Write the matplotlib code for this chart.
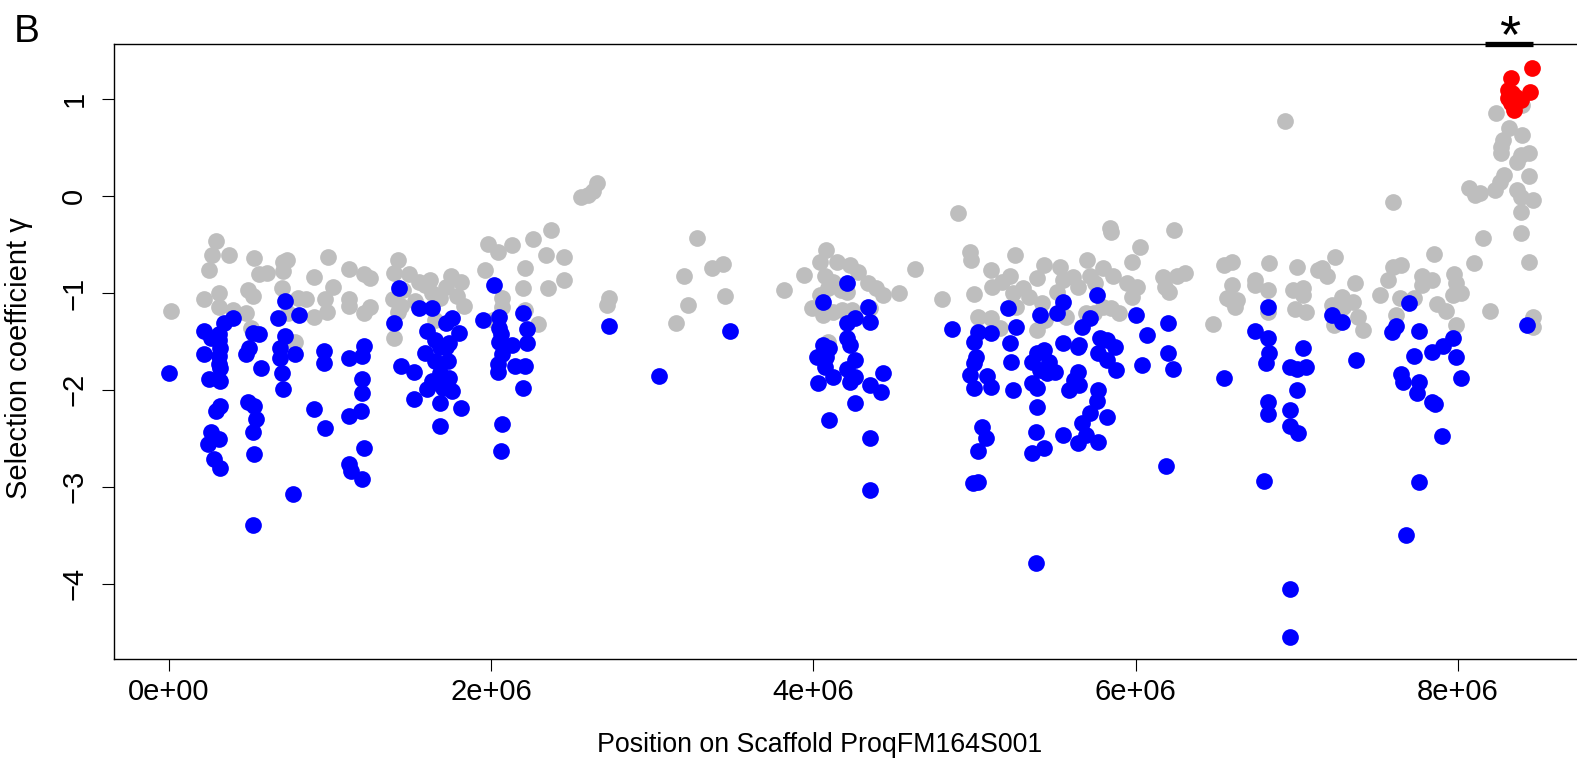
import matplotlib
matplotlib.use('Agg')
import matplotlib.pyplot as plt
import numpy as np

plt.rcParams['font.family'] = ['Liberation Sans', 'DejaVu Sans']

# position (Mb), selection coefficient gamma
grey_pts = [
    # 0 - 1 Mb
    (0.29, -0.46), (0.27, -0.61), (0.37, -0.61), (0.25, -0.76), (0.22, -1.06), (0.31, -1.00),
    (0.31, -1.15), (0.40, -1.18), (0.48, -1.21), (0.53, -0.64), (0.56, -0.80), (0.61, -0.79),
    (0.49, -0.97), (0.52, -1.03), (0.51, -1.36), (0.71, -0.68), (0.73, -0.66), (0.71, -0.77),
    (0.70, -0.95), (0.80, -1.05), (0.85, -1.06), (0.74, -1.21), (0.78, -1.51), (0.90, -0.84),
    (0.99, -0.63), (1.02, -0.94), (0.97, -1.06), (0.98, -1.20), (0.90, -1.25), (0.01, -1.19),
    # 1 - 2 Mb
    (1.12, -0.75), (1.21, -0.80), (1.25, -0.85), (1.12, -1.06), (1.12, -1.13), (1.25, -1.15),
    (1.21, -1.21), (1.42, -0.66), (1.40, -0.79), (1.49, -0.80), (1.55, -0.89), (1.62, -0.87),
    (1.75, -0.82), (1.81, -0.89), (1.39, -1.06), (1.44, -1.13), (1.42, -1.20), (1.53, -1.08),
    (1.63, -1.00), (1.72, -0.94), (1.79, -1.03), (1.83, -1.13), (1.65, -1.28), (1.40, -1.46),
    (1.59, -0.92), (1.68, -1.05), (1.45, -0.97),
    # 2 - 2.5 Mb
    (1.98, -0.49), (2.04, -0.58), (2.13, -0.51), (2.26, -0.44), (2.37, -0.35), (2.34, -0.61),
    (2.45, -0.63), (2.21, -0.74), (1.96, -0.76), (2.20, -0.95), (2.35, -0.95), (2.45, -0.87),
    (2.07, -1.05), (2.07, -1.15), (2.21, -1.18), (2.29, -1.32), (2.01, -1.28),
    # 2.5 - 4 Mb
    (2.56, -0.01), (2.60, 0.01), (2.63, 0.05), (2.66, 0.13), (2.73, -1.05), (2.72, -1.12),
    (3.28, -0.43), (3.20, -0.82), (3.37, -0.74), (3.44, -0.70), (3.45, -1.03), (3.22, -1.12),
    (3.15, -1.31),
    # 4 - 5 Mb
    (3.82, -0.97), (3.94, -0.81), (4.08, -0.56), (4.04, -0.68), (4.15, -0.68), (4.23, -0.71),
    (4.28, -0.78), (4.07, -0.82), (4.12, -0.89), (4.04, -1.02), (4.09, -0.95), (4.17, -0.97),
    (4.21, -0.99), (3.99, -1.16), (4.06, -1.23), (4.12, -1.20), (4.18, -1.18), (4.24, -1.18),
    (4.35, -1.16), (4.34, -0.90), (4.39, -0.95), (4.43, -1.02), (4.53, -1.00), (4.63, -0.75),
    (4.09, -1.51), (4.80, -1.06), (4.90, -0.17),
    # 5 - 6 Mb
    (4.97, -0.58), (4.98, -0.66), (5.10, -0.76), (5.25, -0.61), (5.22, -0.82), (5.17, -0.89),
    (5.11, -0.94), (5.00, -1.01), (5.02, -1.25), (5.10, -1.26), (5.16, -1.36), (5.24, -1.00),
    (5.26, -1.15), (5.30, -0.95), (5.34, -1.04), (5.39, -0.85), (5.43, -0.71), (5.42, -1.10),
    (5.39, -1.38), (5.44, -1.28), (5.53, -0.73), (5.55, -0.87), (5.51, -0.99), (5.57, -1.25),
    (5.61, -0.84), (5.64, -0.94), (5.70, -0.66), (5.72, -0.82), (5.75, -0.90), (5.80, -0.74),
    (5.86, -0.82), (5.84, -0.33), (5.85, -0.37), (5.74, -1.21), (5.80, -1.15), (5.85, -1.16),
    (5.90, -1.21), (5.69, -1.21), (5.95, -0.90), (6.01, -0.94), (5.98, -1.04), (5.98, -0.68),
    (6.03, -0.53),
    # 6 - 7.5 Mb
    (6.17, -0.84), (6.26, -0.82), (6.31, -0.79), (6.18, -0.94), (6.21, -0.99), (6.24, -0.35),
    (6.48, -1.32), (6.55, -0.71), (6.60, -0.68), (6.57, -1.05), (6.60, -0.92), (6.59, -1.07),
    (6.63, -1.07), (6.62, -1.15), (6.74, -0.87), (6.74, -0.92), (6.82, -0.97), (6.82, -1.20),
    (6.83, -0.69), (6.93, 0.77), (7.00, -0.73), (6.98, -0.97), (7.04, -0.95), (7.04, -1.02),
    (6.99, -1.17), (7.06, -1.20), (7.13, -0.76), (7.16, -0.74), (7.24, -0.63), (7.19, -0.82),
    (7.22, -1.12), (7.28, -1.04), (7.29, -1.15), (7.35, -1.09), (7.36, -0.90), (7.38, -1.25),
    (7.41, -1.38), (7.23, -1.33), (7.52, -1.02),
    # 7.5 - 8.5 Mb
    (8.40, 0.94), (8.24, 0.86), (8.32, 0.70), (8.40, 0.63), (8.28, 0.58), (8.27, 0.51),
    (8.27, 0.44), (8.39, 0.42), (8.44, 0.44), (8.37, 0.35), (8.44, 0.21), (8.29, 0.22),
    (8.26, 0.14), (8.23, 0.06), (8.37, 0.06), (8.39, -0.01), (8.47, -0.04), (8.07, 0.08),
    (8.11, 0.01), (8.14, 0.03), (8.39, -0.16), (8.39, -0.38), (8.16, -0.43), (8.44, -0.68),
    (8.10, -0.69), (7.85, -0.60), (7.60, -0.06), (8.20, -1.19), (8.47, -1.25), (8.47, -1.35),
    (7.60, -0.73), (7.65, -0.71), (7.57, -0.87), (7.78, -0.82), (7.84, -0.87), (7.78, -0.92),
    (7.98, -0.80), (7.99, -0.90), (8.02, -1.00), (7.97, -1.02), (7.87, -1.11), (7.93, -1.19),
    (7.99, -1.33), (7.64, -1.05), (7.73, -1.05), (7.62, -1.23),
]

blue_pts = [
    # 0 - 1 Mb
    (0.00, -1.83), (0.22, -1.39), (0.26, -1.46), (0.34, -1.31), (0.40, -1.26), (0.31, -1.42),
    (0.31, -1.49), (0.32, -1.57), (0.22, -1.63), (0.31, -1.65), (0.31, -1.73), (0.32, -1.77),
    (0.25, -1.89), (0.32, -1.91), (0.29, -2.22), (0.32, -2.17), (0.26, -2.44), (0.31, -2.51),
    (0.24, -2.56), (0.28, -2.71), (0.32, -2.81), (0.52, -1.41), (0.56, -1.42), (0.50, -1.57),
    (0.48, -1.63), (0.57, -1.77), (0.49, -2.13), (0.53, -2.17), (0.54, -2.30), (0.52, -2.43),
    (0.53, -2.66), (0.52, -3.39), (0.72, -1.08), (0.68, -1.26), (0.72, -1.44), (0.69, -1.57),
    (0.69, -1.67), (0.78, -1.63), (0.70, -1.83), (0.71, -1.99), (0.77, -3.08), (0.81, -1.23),
    (0.96, -1.60), (0.96, -1.72), (0.90, -2.20), (0.97, -2.39),
    # 1 - 2 Mb
    (1.21, -1.55), (1.12, -1.67), (1.20, -1.65), (1.20, -1.89), (1.20, -2.03), (1.19, -2.22),
    (1.12, -2.27), (1.21, -2.60), (1.12, -2.77), (1.13, -2.84), (1.20, -2.92), (1.43, -0.95),
    (1.40, -1.31), (1.44, -1.75), (1.52, -1.82), (1.52, -2.09), (1.55, -1.16), (1.63, -1.16),
    (1.72, -1.31), (1.76, -1.26), (1.80, -1.41), (1.60, -1.39), (1.68, -1.56), (1.72, -1.56),
    (1.65, -1.70), (1.73, -1.70), (1.68, -1.83), (1.74, -1.88), (1.63, -1.91), (1.70, -1.98),
    (1.76, -2.01), (1.60, -1.99), (1.68, -2.14), (1.81, -2.19), (1.68, -2.37), (1.59, -1.62),
    (1.65, -1.49), (1.74, -1.52), (1.68, -1.94),
    # 2 - 2.5 Mb
    (2.02, -0.92), (1.95, -1.28), (2.05, -1.25), (2.05, -1.36), (2.06, -1.42), (2.05, -1.51),
    (2.07, -1.63), (2.04, -1.73), (2.04, -1.82), (2.13, -1.54), (2.22, -1.37), (2.22, -1.52),
    (2.20, -1.21), (2.15, -1.75), (2.21, -1.75), (2.20, -1.98), (2.07, -2.35), (2.06, -2.63),
    # 2.5 - 4 Mb
    (2.73, -1.34), (3.04, -1.86), (3.48, -1.39),
    # 4 - 5 Mb
    (4.21, -0.90), (4.06, -1.09), (4.34, -1.14), (4.35, -1.30), (4.21, -1.31), (4.26, -1.26),
    (4.21, -1.47), (4.23, -1.54), (4.10, -1.57), (4.06, -1.54), (4.02, -1.66), (4.08, -1.66),
    (4.07, -1.76), (4.12, -1.87), (4.03, -1.93), (4.21, -1.78), (4.26, -1.69), (4.26, -1.87),
    (4.23, -1.92), (4.43, -1.83), (4.35, -1.95), (4.42, -2.02), (4.26, -2.14), (4.10, -2.31),
    (4.35, -2.50), (4.35, -3.03), (4.86, -1.37),
    # 5 - 6.5 Mb
    (5.02, -1.40), (5.00, -1.51), (5.01, -1.66), (5.00, -1.72), (4.97, -1.85), (5.08, -1.86),
    (5.00, -1.98), (5.10, -1.97), (5.05, -2.38), (5.07, -2.50), (5.02, -2.63), (4.99, -2.96),
    (5.02, -2.95), (5.10, -1.41), (5.21, -1.16), (5.22, -1.52), (5.26, -1.35), (5.23, -1.71),
    (5.24, -2.00), (5.41, -1.23), (5.51, -1.21), (5.55, -1.09), (5.76, -1.02), (5.72, -1.26),
    (5.67, -1.35), (5.55, -1.52), (5.64, -1.56), (5.39, -1.62), (5.43, -1.59), (5.36, -1.71),
    (5.46, -1.71), (5.41, -1.80), (5.50, -1.82), (5.45, -1.83), (5.36, -1.93), (5.39, -1.98),
    (5.39, -2.18), (5.38, -2.43), (5.36, -2.65), (5.43, -2.60), (5.55, -2.47), (5.64, -1.82),
    (5.62, -1.90), (5.65, -1.95), (5.59, -2.00), (5.77, -2.00), (5.76, -2.11), (5.72, -2.24),
    (5.67, -2.34), (5.69, -2.47), (5.64, -2.55), (5.77, -2.54), (5.82, -2.28), (5.78, -1.46),
    (5.82, -1.49), (5.87, -1.56), (5.77, -1.62), (5.82, -1.69), (5.88, -1.80), (5.65, -1.54),
    (6.00, -1.23), (6.07, -1.43), (6.04, -1.74), (6.20, -1.31), (6.20, -1.62), (6.23, -1.78),
    (6.19, -2.79), (5.38, -3.79), (6.55, -1.88),
    # 6.5 - 8.5 Mb
    (6.82, -1.14), (6.74, -1.39), (6.82, -1.47), (6.83, -1.62), (6.81, -1.72), (6.82, -2.13),
    (6.82, -2.25), (6.80, -2.94), (7.04, -1.57), (6.96, -1.76), (7.00, -1.78), (7.06, -1.76),
    (7.00, -2.00), (6.96, -2.21), (6.96, -2.37), (7.01, -2.45), (7.22, -1.23), (7.28, -1.30),
    (7.37, -1.69), (7.70, -1.10), (7.62, -1.34), (7.59, -1.40), (7.76, -1.39), (7.73, -1.65),
    (7.65, -1.84), (7.66, -1.92), (7.76, -1.92), (7.75, -2.03), (7.84, -2.13), (7.86, -2.15),
    (7.90, -2.48), (7.76, -2.95), (7.84, -1.61), (7.91, -1.55), (7.97, -1.46), (7.99, -1.66),
    (8.02, -1.88), (8.43, -1.33), (7.68, -3.50), (6.96, -4.06), (6.96, -4.55),
]

red_pts = [
    (8.46, 1.32), (8.33, 1.22), (8.31, 1.09), (8.36, 1.02), (8.45, 1.07),
    (8.35, 0.89), (8.31, 1.01), (8.39, 0.99), (8.33, 0.96), (8.34, 1.06),
]

# significant window marked above the plot
window = (8.17, 8.47)

xtick_pos = [0, 2, 4, 6, 8]
xtick_labels = ['0e+00', '2e+06', '4e+06', '6e+06', '8e+06']
ytick_pos = [-4, -3, -2, -1, 0, 1]
ytick_labels = ['\u22124', '\u22123', '\u22122', '\u22121', '0', '1']

fig = plt.figure(figsize=(15.77, 7.58), dpi=100)
# right side of the box runs past the image edge
ax = fig.add_axes([0.0724, 0.1306, 0.9347, 0.8113])

for pts, col, z in [(grey_pts, '#BEBEBE', 2), (blue_pts, '#0000FF', 3), (red_pts, '#FF0000', 4)]:
    a = np.array(pts)
    ax.scatter(a[:, 0] * 1e6, a[:, 1], s=145, color=col, linewidths=0, zorder=z)

ax.set_xlim(-0.34e6, 8.81e6)
ax.set_ylim(-4.778, 1.569)

ax.set_xticks([v * 1e6 for v in xtick_pos])
ax.set_xticklabels(xtick_labels)
ax.set_yticks(ytick_pos)
ax.set_yticklabels(ytick_labels, rotation=90, va='center')

ax.tick_params(axis='both', direction='out', length=8.6, width=0.8, labelsize=21, color='black')
ax.tick_params(axis='x', pad=5)
ax.tick_params(axis='y', pad=10)
for sp in ax.spines.values():
    sp.set_linewidth(1.0)
    sp.set_color('black')

# bar and star for the significant window
ax.plot([window[0] * 1e6, window[1] * 1e6], [1.569, 1.569], color='black', lw=3.8,
        solid_capstyle='butt', clip_on=False, zorder=5)
ax.text(np.mean(window) * 1e6, 1.49, '*', fontsize=39, ha='center', va='baseline',
        clip_on=False)

fig.text(0.52, 0.008, 'Position on Scaffold ProqFM164S001', fontsize=19.3,
         ha='center', va='baseline')
fig.text(0.012, 0.527, 'Selection coefficient \u03b3', fontsize=21, rotation=90,
         ha='center', va='center')
fig.text(0.0085, 0.9446, 'B', fontsize=28, ha='left', va='baseline')

fig.savefig('out.png', dpi=100)
